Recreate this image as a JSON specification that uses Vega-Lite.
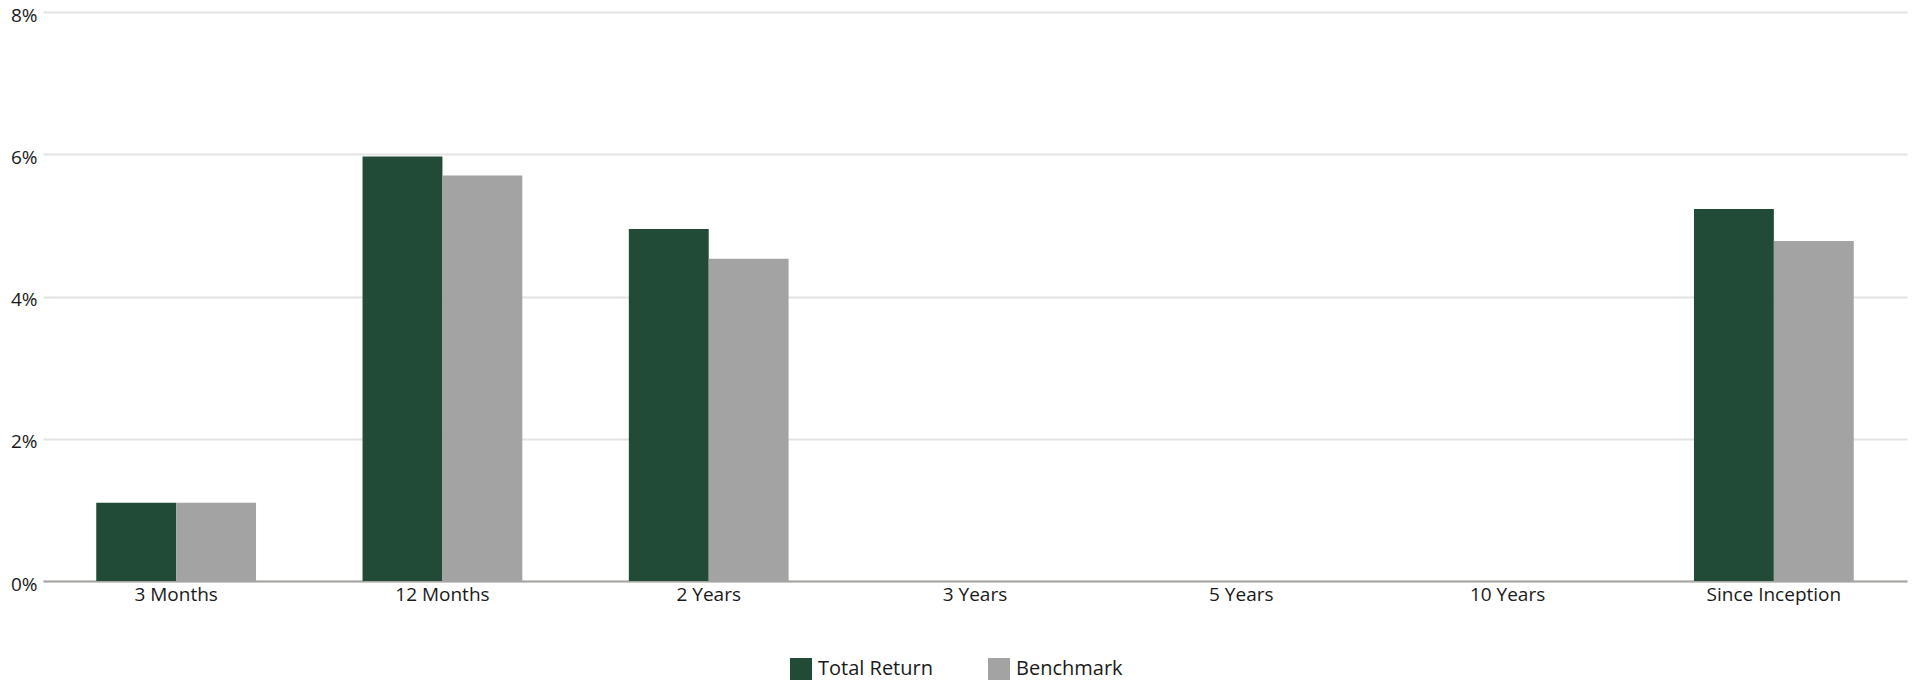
{
  "$schema": "https://vega.github.io/schema/vega-lite/v6.json",
  "width": 1864,
  "height": 569,
  "autosize": {"type": "none"},
  "padding": {"left": 43, "top": 12, "right": 7, "bottom": 102},
  "background": "white",
  "config": {
    "view": {"stroke": null},
    "font": "Open Sans",
    "axis": {"labelFont": "Open Sans", "labelFontSize": 19, "labelColor": "#1a1a1a"},
    "legend": {"labelFont": "Open Sans", "labelFontSize": 20, "labelColor": "#1a1a1a"}
  },
  "data": {
    "values": [
      {"period": "3 Months", "series": "Total Return", "value": 1.10},
      {"period": "3 Months", "series": "Benchmark", "value": 1.10},
      {"period": "12 Months", "series": "Total Return", "value": 5.97},
      {"period": "12 Months", "series": "Benchmark", "value": 5.70},
      {"period": "2 Years", "series": "Total Return", "value": 4.95},
      {"period": "2 Years", "series": "Benchmark", "value": 4.53},
      {"period": "Since Inception", "series": "Total Return", "value": 5.23},
      {"period": "Since Inception", "series": "Benchmark", "value": 4.78}
    ]
  },
  "mark": {"type": "bar"},
  "encoding": {
    "x": {
      "field": "period",
      "type": "nominal",
      "sort": null,
      "title": null,
      "scale": {
        "domain": ["3 Months", "12 Months", "2 Years", "3 Years", "5 Years", "10 Years", "Since Inception"],
        "paddingInner": 0.4,
        "paddingOuter": 0.2
      },
      "axis": {
        "labelAngle": 0,
        "ticks": false,
        "domainColor": "#a8a4a0",
        "domainWidth": 2,
        "labelPadding": 4,
        "grid": false
      }
    },
    "xOffset": {
      "field": "series",
      "type": "nominal",
      "sort": ["Total Return", "Benchmark"],
      "scale": {"paddingInner": 0, "paddingOuter": 0}
    },
    "y": {
      "field": "value",
      "type": "quantitative",
      "title": null,
      "scale": {"domain": [0, 8], "nice": false},
      "axis": {
        "values": [0, 2, 4, 6, 8],
        "labelExpr": "datum.value + '%'",
        "ticks": false,
        "domain": false,
        "gridColor": "#e3e3e3",
        "gridWidth": 2,
        "labelPadding": 6,
        "labelOffset": 3
      }
    },
    "color": {
      "field": "series",
      "type": "nominal",
      "scale": {"domain": ["Total Return", "Benchmark"], "range": ["#214b37", "#a3a3a3"]},
      "legend": {
        "title": null,
        "orient": "none",
        "direction": "horizontal",
        "legendX": 747,
        "legendY": 646,
        "symbolType": "square",
        "symbolSize": 484,
        "symbolStrokeWidth": 0,
        "labelOffset": 6,
        "columnPadding": 55,
        "padding": 0
      }
    }
  }
}
